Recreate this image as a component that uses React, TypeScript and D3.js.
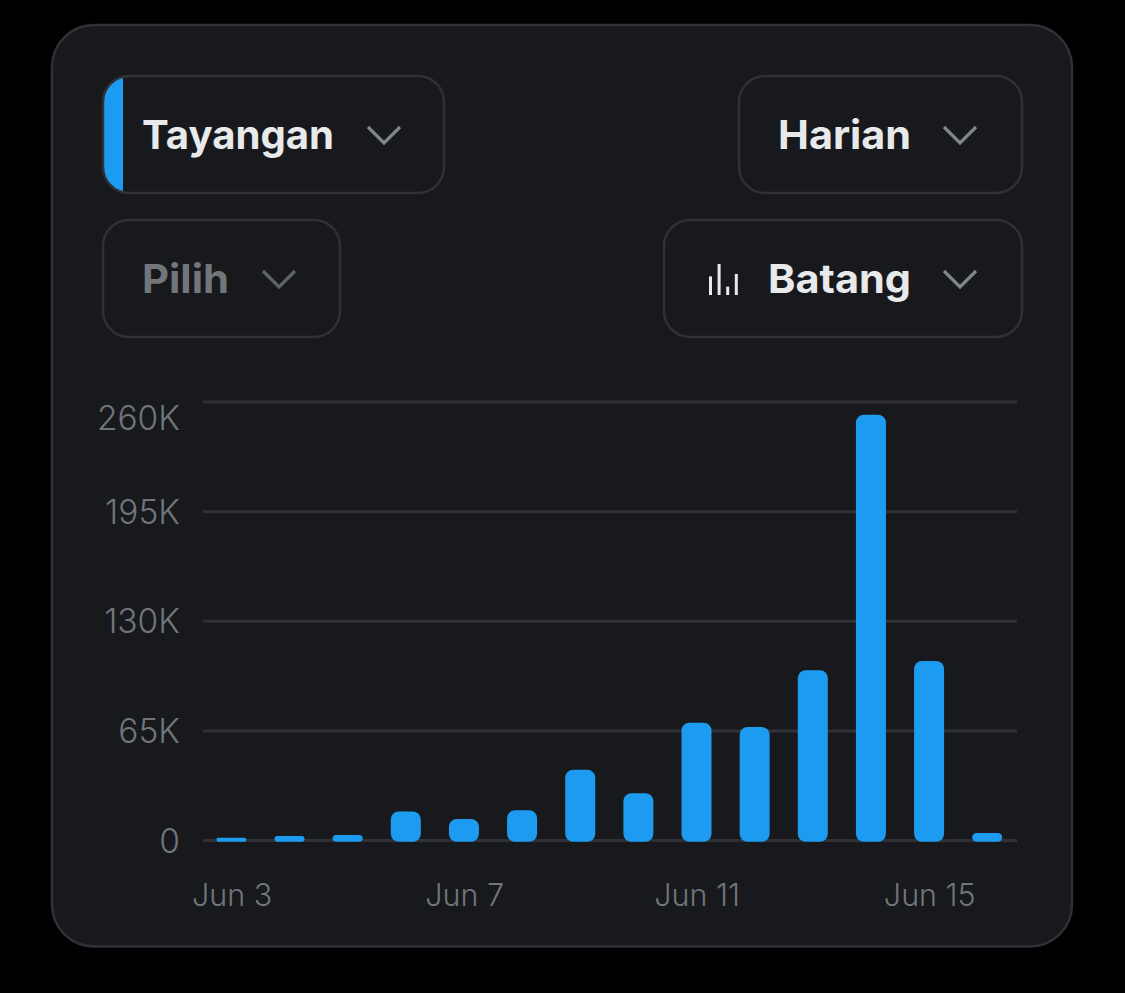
import React from "react";
import * as d3 from "d3";

const days = ["Jun 3","Jun 4","Jun 5","Jun 6","Jun 7","Jun 8","Jun 9","Jun 10","Jun 11","Jun 12","Jun 13","Jun 14","Jun 15","Jun 16"];
const views = [1600,2700,3300,17200,12800,18000,42000,28000,69800,67300,101000,252500,106500,4500];
const yTicks = [0,65000,130000,195000,260000];
const xTickLabels = ["Jun 3","Jun 7","Jun 11","Jun 15"];
const iconBars = [0.6,1,0.27,0.68];

const BLUE = "#1d9bf0";
const BORDER = "#2f3136";
const CARD = "#17191d";
const FONT = "Inter, 'Noto Sans', sans-serif";
const AXIS_FONT = "Inter, 'Liberation Sans', sans-serif";

function topRounded(x: number, y0: number, w: number, h: number, r: number) {
  const rr = Math.min(r, h / 2, w / 2);
  const p = d3.path();
  p.moveTo(x + rr, y0);
  p.lineTo(x + w - rr, y0);
  p.arcTo(x + w, y0, x + w, y0 + rr, rr);
  p.lineTo(x + w, y0 + h - rr);
  p.arcTo(x + w, y0 + h, x + w - rr, y0 + h, rr);
  p.lineTo(x + rr, y0 + h);
  p.arcTo(x, y0 + h, x, y0 + h - rr, rr);
  p.lineTo(x, y0 + rr);
  p.arcTo(x, y0, x + rr, y0, rr);
  p.closePath();
  return p.toString();
}

function Chevron({ x, y, color }: { x: number; y: number; color: string }) {
  const line = d3.line();
  return (
    <path
      d={line([[x - 16, y - 8], [x, y + 8], [x + 16, y - 8]]) as string}
      fill="none"
      stroke={color}
      strokeWidth={3.2}
    />
  );
}

function Pill({ x, y, w, label, labelX, labelW, color, chevX, chevColor }: any) {
  return (
    <g>
      <rect x={x} y={y} width={w} height={117} rx={26} fill="none" stroke={BORDER} strokeWidth={2.5} />
      <text
        x={labelX}
        y={y + 73}
        fontFamily={FONT}
        fontWeight={700}
        fontSize={40}
        fill={color}
        textLength={labelW}
        lengthAdjust="spacingAndGlyphs"
      >
        {label}
      </text>
      <Chevron x={chevX} y={y + 59} color={chevColor} />
    </g>
  );
}

export default function App() {
  const x = d3.scaleBand<string>().domain(days).range([202.3, 1016.3]).paddingInner(0.484).paddingOuter(0.242);
  const y = d3.scaleLinear().domain([0, 260000]).range([840.5, 402]);
  const iconH = d3.scaleLinear().domain([0, 1]).range([0, 31]);

  return (
    <svg
      width={1125}
      height={993}
      viewBox="0 0 1125 993"
      style={{ position: "fixed", left: 0, top: 0, background: "#000" }}
    >
      <rect x={52} y={25} width={1020} height={921.5} rx={42} fill={CARD} stroke={BORDER} strokeWidth={2.5} />

      <clipPath id="accent">
        <rect x={103} y={76} width={341} height={117} rx={26} />
      </clipPath>
      <rect x={103} y={76} width={20} height={117} fill={BLUE} clipPath="url(#accent)" />
      <Pill x={103} y={76} w={341} label="Tayangan" labelX={142} labelW={192} color="#e7e9ea" chevX={384} chevColor="#80848a" />
      <Pill x={103} y={220} w={237} label="Pilih" labelX={142} labelW={87} color="#71767b" chevX={279} chevColor="#5f6368" />
      <Pill x={739} y={76} w={283} label="Harian" labelX={778} labelW={133} color="#e7e9ea" chevX={960} chevColor="#80848a" />
      <Pill x={664} y={220} w={358} label="Batang" labelX={768} labelW={143} color="#e7e9ea" chevX={960} chevColor="#80848a" />
      {iconBars.map((v, i) => (
        <rect key={i} x={709 + i * 8.6} y={295 - iconH(v)} width={3} height={iconH(v)} fill="#e7e9ea" />
      ))}

      {yTicks.map((t) => (
        <line key={t} x1={203} x2={1017} y1={y(t)} y2={y(t)} stroke={BORDER} strokeWidth={3} />
      ))}
      {yTicks.map((t) => (
        <text
          key={t}
          x={180}
          y={t === 260000 ? y(t) + 28 : y(t) + 12}
          textAnchor="end"
          fontFamily={AXIS_FONT}
          fontSize={33.5}
          fontWeight={300}
          fill="#71757a"
        >
          {t === 0 ? "0" : `${t / 1000}K`}
        </text>
      ))}

      {days.map((d, i) => {
        const top = y(views[i]);
        const bottom = 841.8;
        return (
          <path
            key={d}
            d={topRounded(x(d) as number, top, x.bandwidth(), bottom - top, 8)}
            fill={BLUE}
          />
        );
      })}

      {xTickLabels.map((l) => (
        <text
          key={l}
          x={(x(l) as number) + x.bandwidth() / 2 + 0.7}
          y={906}
          textAnchor="middle"
          fontFamily={AXIS_FONT}
          fontSize={30.5}
          fontWeight={300}
          fill="#71757a"
        >
          {l}
        </text>
      ))}
    </svg>
  );
}
